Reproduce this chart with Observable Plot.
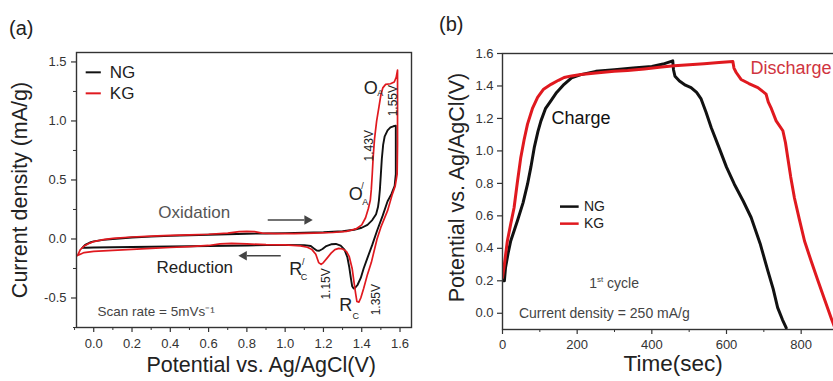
<!DOCTYPE html>
<html><head><meta charset="utf-8">
<script src="https://cdn.jsdelivr.net/npm/d3@7"></script>
<script src="https://cdn.jsdelivr.net/npm/@observablehq/plot@0.6"></script>
<style>
body{margin:0;background:#fff;width:833px;height:381px;overflow:hidden;font-family:"Liberation Sans",Arial,sans-serif;}
#wrap{position:relative;width:833px;height:381px;overflow:hidden;background:#fff;}
.panel{position:absolute;top:0;}
.panel svg{max-width:none !important;display:block;}
.tag{position:absolute;font-size:20px;line-height:20px;color:#222;}
</style></head><body>
<div id="wrap">
<div id="pa" class="panel" style="left:0px;width:420px"></div>
<div id="pb" class="panel" style="left:420px;width:440px"></div>
<div class="tag" style="left:9px;top:18px">(a)</div>
<div class="tag" style="left:439px;top:14px">(b)</div>
</div>
<script>
// ---------- Panel (a): cyclic voltammetry ----------
const cvPotentialNG = [-0.06,-0.045,-0.02,0.0,0.05,0.1,0.2,0.3,0.4,0.5,0.6,0.7,0.8,0.9,1.0,1.1,1.2,1.3,1.36,1.4,1.43,1.455,1.475,1.485,1.49,1.495,1.5,1.505,1.512,1.52,1.535,1.55,1.565,1.578,
  1.578,1.578,1.572,1.555,1.535,1.51,1.48,1.455,1.43,1.41,1.395,1.378,1.365,1.358,1.35,1.343,1.335,1.325,1.31,1.29,1.265,1.24,1.215,1.195,1.178,1.165,1.15,1.134,1.1,1.0,0.9,0.8,0.7,0.6,0.5,0.4,0.3,0.2,0.1,0.0,-0.04,-0.06];
const cvCurrentNG = [-0.075,-0.05,-0.03,-0.02,-0.008,0.0,0.012,0.02,0.026,0.031,0.036,0.04,0.044,0.047,0.05,0.053,0.057,0.065,0.078,0.095,0.12,0.16,0.21,0.27,0.33,0.42,0.55,0.68,0.8,0.87,0.92,0.945,0.955,0.96,
  0.75,0.55,0.45,0.38,0.32,0.2,0.07,-0.05,-0.16,-0.25,-0.33,-0.39,-0.415,-0.42,-0.4,-0.33,-0.24,-0.155,-0.09,-0.057,-0.042,-0.045,-0.06,-0.085,-0.1,-0.098,-0.08,-0.06,-0.052,-0.05,-0.052,-0.055,-0.057,-0.06,-0.062,-0.064,-0.066,-0.068,-0.07,-0.072,-0.074,-0.075];
const cvPotentialKG = [-0.085,-0.07,-0.05,-0.02,0.0,0.05,0.1,0.2,0.3,0.4,0.5,0.6,0.7,0.76,0.8,0.84,0.88,0.95,1.05,1.15,1.25,1.32,1.37,1.4,1.42,1.435,1.445,1.45,1.455,1.46,1.467,1.478,1.49,1.5,1.51,1.525,1.55,1.57,1.58,1.587,
  1.587,1.587,1.585,1.575,1.56,1.535,1.5,1.48,1.465,1.45,1.43,1.41,1.395,1.385,1.375,1.368,1.36,1.35,1.335,1.32,1.3,1.28,1.26,1.24,1.22,1.2,1.188,1.175,1.16,1.14,1.116,1.08,1.0,0.9,0.8,0.72,0.66,0.6,0.5,0.4,0.3,0.2,0.1,0.0,-0.05,-0.085];
const cvCurrentKG = [-0.14,-0.09,-0.06,-0.035,-0.022,-0.005,0.005,0.017,0.025,0.03,0.035,0.04,0.05,0.062,0.065,0.062,0.05,0.045,0.046,0.05,0.055,0.065,0.085,0.12,0.18,0.26,0.33,0.42,0.55,0.7,0.85,1.0,1.12,1.22,1.28,1.31,1.315,1.33,1.37,1.43,
  1.2,0.8,0.55,0.45,0.38,0.24,0.1,0.0,-0.1,-0.2,-0.3,-0.42,-0.5,-0.535,-0.53,-0.46,-0.37,-0.25,-0.15,-0.105,-0.085,-0.08,-0.09,-0.12,-0.16,-0.2,-0.215,-0.2,-0.13,-0.09,-0.07,-0.058,-0.05,-0.048,-0.042,-0.038,-0.042,-0.055,-0.065,-0.072,-0.08,-0.088,-0.096,-0.105,-0.115,-0.14];
const xTicksA = [0,0.2,0.4,0.6,0.8,1.0,1.2,1.4,1.6];
const xMinorA = [-0.1,0.1,0.3,0.5,0.7,0.9,1.1,1.3,1.5];
const yTicksA = [-0.5,0,0.5,1.0,1.5];
const yMinorA = [-0.75,-0.25,0.25,0.75,1.25];
const seriesNames = ["NG","KG"];

// annotations (data units)
const peakLetters = [{t:"O",x:1.447,y:1.28},{t:"O",x:1.369,y:0.38},{t:"R",x:1.055,y:-0.254},{t:"R",x:1.317,y:-0.565}];
const peakSubs = [{t:"A",x:1.497,y:1.235},{t:"A",x:1.418,y:0.31},{t:"C",x:1.099,y:-0.325},{t:"C",x:1.369,y:-0.65}];
const peakPrimes = [{t:"/",x:1.404,y:0.45},{t:"/",x:1.095,y:-0.198}];
const peakVolts = [{t:"1.55V",x:1.565,y:1.172},{t:"1.43V",x:1.437,y:0.79},{t:"1.15V",x:1.212,y:-0.381},{t:"1.35V",x:1.473,y:-0.514}];
const scanLabels = [{t:"Oxidation",x:0.525,y:0.225,c:"#555"},{t:"Reduction",x:0.528,y:-0.24,c:"#222"}];
const scanArrows = [{x1:0.909,x2:1.10,y:0.161,dir:90,xh:1.115},{x1:0.977,x2:0.80,y:-0.142,dir:-90,xh:0.785}];

const ngA = cvPotentialNG.map((v,i)=>({x:v,y:cvCurrentNG[i]}));
const kgA = cvPotentialKG.map((v,i)=>({x:v,y:cvCurrentKG[i]}));
const legendA = [{name:seriesNames[0],x1:-0.042,x2:0.037,y:1.412,c:"#111"},{name:seriesNames[1],x1:-0.042,x2:0.037,y:1.234,c:"#e0191f"}];

const FONT = '"Liberation Sans", Arial, sans-serif';
const fmt1 = d => d.toFixed(1);

const plotA = Plot.plot({
  width: 420, height: 381,
  marginLeft: 76, marginRight: 9, marginTop: 52, marginBottom: 54,
  x: {domain: [-0.09, 1.66]},
  y: {domain: [-0.75, 1.58]},
  style: {fontFamily: FONT, fontSize: "13px", color: "#333", background: "transparent", overflow: "visible"},
  marks: [
    Plot.axisX({ticks: xTicksA, tickFormat: fmt1, tickSize: 5, tickPadding: 6, label: null, strokeWidth: 1.2}),
    Plot.axisX({ticks: xMinorA, tickFormat: () => "", tickSize: 3, label: null}),
    Plot.axisY({ticks: yTicksA, tickFormat: fmt1, tickSize: 5, tickPadding: 5, label: null, strokeWidth: 1.2}),
    Plot.axisY({ticks: yMinorA, tickFormat: () => "", tickSize: 3, label: null}),
    Plot.line(ngA, {x: "x", y: "y", stroke: "#111", strokeWidth: 1.9}),
    Plot.line(kgA, {x: "x", y: "y", stroke: "#e0191f", strokeWidth: 1.7}),
    Plot.frame({stroke: "#333", strokeWidth: 1.4}),
    Plot.link(legendA, {x1: "x1", x2: "x2", y1: "y", y2: "y", stroke: "c", strokeWidth: 2}),
    Plot.text(legendA, {x: () => 0.084, y: "y", text: "name", textAnchor: "start", fontSize: 17, fill: "#222"}),
    Plot.text(scanLabels, {x: "x", y: "y", text: "t", fill: "c", fontSize: 17}),
    Plot.link(scanArrows, {x1: "x1", x2: "x2", y1: "y", y2: "y", stroke: "#444", strokeWidth: 1.4}),
    Plot.dot(scanArrows, {x: "xh", y: "y", symbol: "triangle", r: 3.6, fill: "#444", rotate: "dir"}),
    Plot.text(["Scan rate = 5mVs⁻¹"], {x: 0.02, y: -0.613, textAnchor: "start", fontSize: 13.5, fill: "#444"}),
    Plot.text(peakLetters, {x: "x", y: "y", text: "t", fontSize: 18, fill: "#222"}),
    Plot.text(peakSubs, {x: "x", y: "y", text: "t", fontSize: 9, fill: "#222"}),
    Plot.text(peakPrimes, {x: "x", y: "y", text: "t", fontSize: 9, fill: "#222"}),
    Plot.text(peakVolts, {x: "x", y: "y", text: "t", rotate: -90, fontSize: 12, fill: "#222"}),
    Plot.text(["Current density (mA/g)"], {frameAnchor: "left", textAnchor: "middle", rotate: -90, dx: -56, fontSize: 21.5, fill: "#222"}),
    Plot.text(["Potential vs. Ag/AgCl(V)"], {x: 0.875, frameAnchor: "bottom", dy: 44, fontSize: 21.5, fill: "#222"})
  ]
});
document.getElementById("pa").append(plotA);

// ---------- Panel (b): galvanostatic charge/discharge ----------
const timeNG = [0,5,8,15,22,30,40,55,67,76,85,95,103,115,130,145,165,185,210,250,300,350,400,430,456,458,462,474,490,505,520,532,545,559,580,600,621,645,666,690,711,725,737,750,760];
const potNG  = [0.2,0.2,0.28,0.37,0.445,0.5,0.57,0.68,0.795,0.9,1.02,1.12,1.185,1.26,1.31,1.36,1.41,1.45,1.47,1.49,1.5,1.51,1.52,1.535,1.555,1.5,1.46,1.43,1.405,1.39,1.36,1.32,1.24,1.144,1.02,0.9,0.795,0.69,0.59,0.43,0.26,0.15,0.035,-0.04,-0.09];
const timeKG = [0,5,13,22,31,40,49,58,67,80,94,110,130,150,165,185,210,250,299,335,380,420,460,500,540,580,617,620,626,639,660,684,706,712,719,733,751,758,764,772,782,795,809,827,845,862,880,895];
const potKG  = [0.22,0.3,0.445,0.55,0.65,0.81,0.96,1.07,1.165,1.26,1.33,1.38,1.41,1.435,1.452,1.462,1.47,1.48,1.49,1.495,1.505,1.515,1.524,1.53,1.537,1.544,1.55,1.51,1.483,1.44,1.415,1.39,1.35,1.3,1.267,1.185,1.124,1.05,0.96,0.84,0.71,0.58,0.445,0.32,0.2,0.09,-0.027,-0.12];
const xTicksB = [0,200,400,600,800];
const xMinorB = [100,300,500,700];
const yTicksB = [0,0.2,0.4,0.6,0.8,1.0,1.2,1.4,1.6];

const ngB = timeNG.map((t,i)=>({t, v: potNG[i]}));
const kgB = timeKG.map((t,i)=>({t, v: potKG[i]}));
const legendB = [{name:seriesNames[0],x1:154,x2:204,y:0.657,c:"#111"},{name:seriesNames[1],x1:154,x2:204,y:0.552,c:"#e0191f"}];

const plotB = Plot.plot({
  width: 440, height: 381,
  marginLeft: 82, marginRight: 22, marginTop: 53, marginBottom: 52,
  x: {domain: [0, 900]},
  y: {domain: [-0.1, 1.6]},
  style: {fontFamily: FONT, fontSize: "13px", color: "#333", background: "transparent", overflow: "visible", maxWidth: "none"},
  marks: [
    Plot.axisX({ticks: xTicksB, tickFormat: d => String(d), tickSize: 5, tickPadding: 5, label: null, strokeWidth: 1.2}),
    Plot.axisX({ticks: xMinorB, tickFormat: () => "", tickSize: 3, label: null}),
    Plot.axisY({ticks: yTicksB, tickFormat: fmt1, tickSize: 5, tickPadding: 4, label: null, strokeWidth: 1.2}),
    Plot.line(ngB, {x: "t", y: "v", stroke: "#111", strokeWidth: 3, clip: true}),
    Plot.line(kgB, {x: "t", y: "v", stroke: "#e0191f", strokeWidth: 3, clip: true}),
    Plot.frame({stroke: "#333", strokeWidth: 1.4}),
    Plot.link(legendB, {x1: "x1", x2: "x2", y1: "y", y2: "y", stroke: "c", strokeWidth: 2.5}),
    Plot.text(legendB, {x: () => 218, y: "y", text: "name", textAnchor: "start", fontSize: 14, fill: "#222"}),
    Plot.text(["Charge"], {x: 210, y: 1.2, fontSize: 18, fill: "#111"}),
    Plot.text(["Discharge"], {x: 773, y: 1.512, fontSize: 18, fill: "#d0353f"}),
    Plot.text(["1"], {x: 243, y: 0.182, fontSize: 14, fill: "#444"}),
    Plot.text(["st"], {x: 253, y: 0.21, textAnchor: "start", fontSize: 8, fill: "#444"}),
    Plot.text(["cycle"], {x: 280, y: 0.182, textAnchor: "start", fontSize: 14, fill: "#444"}),
    Plot.text(["Current density = 250 mA/g"], {x: 44, y: 0.0, textAnchor: "start", fontSize: 14, fill: "#444"}),
    Plot.text(["Potential vs. Ag/AgCl(V)"], {frameAnchor: "left", textAnchor: "middle", rotate: -90, dx: -45, dy: -4, fontSize: 21.5, fill: "#222"}),
    Plot.text(["Time(sec)"], {x: 457, frameAnchor: "bottom", dy: 41.5, fontSize: 22.5, fill: "#222"})
  ]
});
document.getElementById("pb").append(plotB);
</script>
</body></html>
